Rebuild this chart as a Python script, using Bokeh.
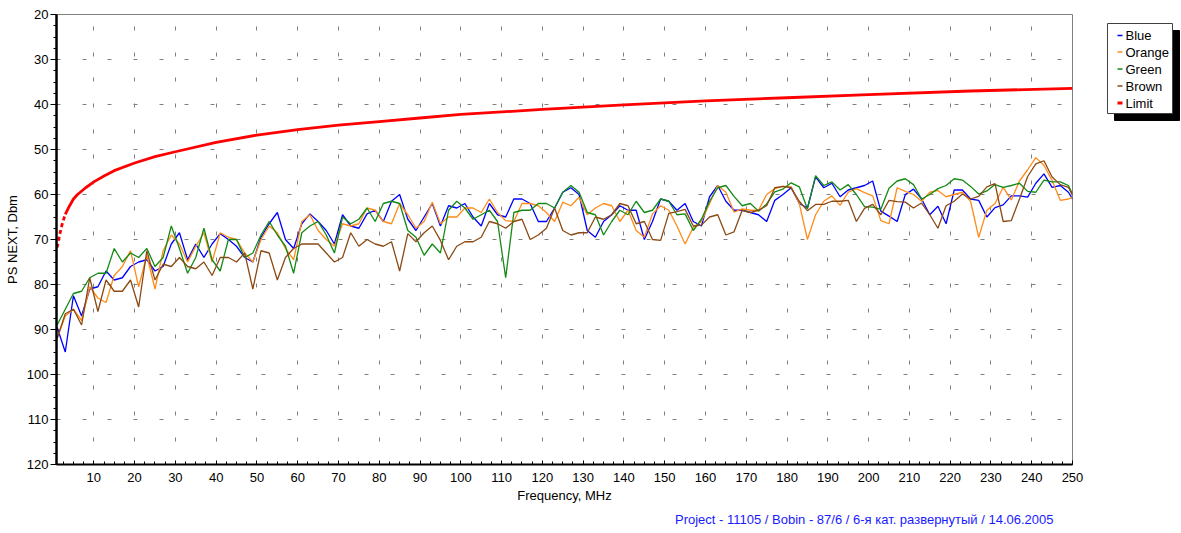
from bokeh.plotting import figure
from bokeh.models import Range1d, FixedTicker, Title, ColumnDataSource
from bokeh.layouts import row
from bokeh.embed import file_html
from bokeh.resources import INLINE
from bokeh.core.properties import value

# ---------------- data ----------------
freq = list(range(1, 250, 2)) + [250]   # MHz sample points

blue = [89.5, 95, 82.5, 87, 81, 80.5, 77, 79, 78.5, 76,
        75, 74.5, 77, 76, 71, 68.5, 74.5, 71, 74, 71,
        68.7, 70, 71.5, 74, 75, 69.5, 66.5, 64, 70, 72,
        66.5, 64.3, 66, 68, 71, 64.5, 67, 67.5, 64.3, 63.5, 66, 61.5,
        60, 65.5, 68, 65, 62, 67, 62.5, 63, 62, 65,
        67, 62, 64.5, 65, 61, 61, 62, 66, 66, 63,
        59.5, 58.5, 60, 68, 69.5, 66, 64.5, 62.5, 63.5, 63.5,
        70, 66, 61, 61.5, 63.5, 62, 66, 67, 60.5, 58, 61.5,
        63.5, 63.5, 64, 64.5, 66, 61.3, 60, 58.5, 62, 63,
        56.1, 58.5, 57.5, 60.5, 59, 58.5, 58, 57, 63.7, 64.8,
        66, 60, 58.8, 61, 64.5, 62.6, 66.5, 59, 59, 61,
        61.3, 65, 62.9, 62.3, 60.3, 60.3, 60.6, 57.5, 55.4, 58.4, 58, 59.5,
        61]

orange = [92, 87, 85.5, 88, 80.5, 83, 84, 78, 76, 72.5,
          80.5, 73.5, 81, 72.5, 69, 71, 75, 71.5, 68.5, 75,
          68.5, 69.5, 70, 73, 75, 70, 67, 68.5, 72, 74.5,
          66, 64.5, 68, 70, 71.5, 66.5, 67, 66.5, 63, 63.5, 66, 66.5,
          62, 64.5, 67.5, 66, 61.7, 66.5, 65, 65, 63, 63,
          64, 61, 64, 65.8, 66, 62, 62, 62.5, 64, 66,
          61.7, 62.5, 60.6, 64.5, 63, 62, 62.5, 66, 63.5, 68,
          69.5, 64.3, 62.5, 63.5, 67, 71, 67.3, 66, 62, 58, 59.5,
          63.9, 63.2, 63.5, 63.5, 60, 58.7, 58.2, 58.3, 62, 70,
          64.5, 61.5, 60.3, 62.4, 59.5, 58.7, 59.6, 60.3, 65.8, 66.5,
          58.5, 59.3, 60, 61.5, 59.5, 59.1, 60.5, 60, 59.5, 61.5,
          69.5, 63.5, 62, 58.4, 61.2, 57, 54.5, 51.8, 53.5, 56.9, 61.3, 61,
          60.6]

green = [89, 85.5, 82, 81.5, 78.5, 77.5, 77.5, 72, 75, 73,
         74, 72, 76, 74, 67, 72, 77.5, 74, 67.5, 74.5,
         77, 70, 70, 74, 73, 69, 66, 69, 71.5, 77.5,
         68.5, 67, 66, 69, 73, 65, 66.5, 65.5, 63, 66, 62, 61.5,
         62, 68, 69.5, 73.5, 71, 73, 63.5, 61.5, 63, 65.5,
         64.5, 63.5, 66, 78.5, 64, 63.5, 63.5, 62, 62, 63,
         59.5, 58, 59.5, 64, 64.5, 69, 66, 63.5, 64.5, 61.5,
         64, 63.5, 61, 61.5, 64.5, 64.3, 68, 65.5, 61.5, 58.5, 58,
         60.4, 62.5, 62, 63.7, 62.1, 59.4, 58.8, 57.4, 58.3, 63.2,
         55.8, 58, 57.2, 59, 57.8, 60, 62.7, 62.8, 63.3, 58.6,
         57, 56.5, 57.8, 61, 60, 58.7, 58, 56.5, 56.8, 58.2,
         59.9, 59.2, 57.8, 58.4, 58, 57.5, 59.3, 59.5, 56.8, 57.2, 57.2, 58,
         59.9]

brown = [92, 86.5, 85.5, 89, 78.5, 86, 79, 81.5, 81.5, 79,
         85, 72.5, 79, 75.5, 76, 74, 76, 76.5, 75, 78,
         74, 74, 75, 73, 81, 72.5, 73, 79, 74, 72,
         71, 71, 71, 73, 75, 74, 68.5, 71.5, 70, 71, 71.5, 70.5,
         77, 68.7, 70.5, 68.5, 67, 70.2, 74.5, 71.5, 70.5, 70.5,
         69.5, 66, 66.5, 67.5, 66, 65.5, 70, 69, 67.5, 63,
         68, 69, 68.5, 68.5, 65, 65.5, 64.5, 62, 62.5, 66.5,
         66, 70, 70.2, 64.2, 63.8, 63.3, 67, 66.8, 65, 64.5, 69,
         68.3, 63.5, 64, 63.5, 62.5, 58.5, 58.2, 58.5, 61.5, 63.6,
         62.2, 62.2, 61.5, 61.5, 61.3, 66, 63.1, 62.2, 64.5, 61.3,
         61.6, 61.7, 63, 61.9, 64.5, 67.5, 62.5, 61.5, 59.9, 61,
         60.4, 58.3, 57.6, 66, 65.8, 61, 56, 53.2, 52.5, 56.1, 57.8, 58.4,
         60.2]

limit_freq = [1, 1.25, 1.5, 2, 2.5, 3, 4, 5, 6, 8, 10, 12.5, 15, 20, 25, 30,
              40, 50, 60, 70, 80, 90, 100, 120, 140, 160, 180, 200, 225, 250]
limit_db = [71.8, 70.6, 69.5, 67.4, 65.8, 64.4, 62.6, 61.0, 60.0, 58.5, 57.2,
            55.9, 54.7, 53.0, 51.6, 50.5, 48.4, 46.8, 45.6, 44.6, 43.8, 43.0,
            42.2, 41.1, 40.1, 39.2, 38.5, 37.8, 37.0, 36.4]

series_names = ["Blue", "Orange", "Green", "Brown", "Limit"]
series_colors = ["#0000FF", "#FF8C1A", "#138A13", "#8B4A14", "#FF0000"]

y_ticks = list(range(20, 121, 10))
x_ticks = list(range(10, 251, 10))
y_minor = [20 + 2.5 * i for i in range(41)]
x_minor = [2.5 * i for i in range(1, 101)]

x_title = "Frequency, MHz"
y_title = "PS NEXT, Dbm"
footer = "Project - 11105 / Bobin - 87/6 / 6-я кат. развернутый / 14.06.2005"

FONT = "Liberation Sans"
GRID_DASH = "4 22 4 21 4 22"

# ---------------- main plot ----------------
p = figure(width=1090, height=533,
           x_range=Range1d(0.85, 250), y_range=Range1d(120, 20),
           output_backend="svg", toolbar_location=None,
           min_border_left=56, min_border_right=18,
           min_border_top=14, min_border_bottom=69)
p.background_fill_color = "white"
p.border_fill_color = "white"
p.outline_line_color = "#808080"
p.outline_line_width = 1

series = [blue, orange, green, brown]
for vals, col in zip(series, series_colors[:4]):
    p.line(freq, vals, line_color=col, line_width=1.3)

lim_lo = [(f, v) for f, v in zip(limit_freq, limit_db) if f <= 3]
lim_hi = [(f, v) for f, v in zip(limit_freq, limit_db) if f >= 3]
p.line([a for a, b in lim_lo], [b for a, b in lim_lo],
       line_color=series_colors[4], line_width=2.8, line_dash="4 3")
p.line([a for a, b in lim_hi], [b for a, b in lim_hi],
       line_color=series_colors[4], line_width=2.8)

# axes
p.yaxis.ticker = FixedTicker(ticks=y_ticks, minor_ticks=y_minor)
p.xaxis.ticker = FixedTicker(ticks=x_ticks, minor_ticks=x_minor)
p.xaxis.axis_label = x_title
p.yaxis.axis_label = y_title
for ax in (p.xaxis[0], p.yaxis[0]):
    ax.axis_line_color = "black"
    ax.major_tick_line_color = "black"
    ax.minor_tick_line_color = "black"
    ax.major_label_text_font = FONT
    ax.major_label_text_font_size = "13px"
    ax.major_label_text_color = "black"
    ax.axis_label_text_font = FONT
    ax.axis_label_text_font_size = "13px"
    ax.axis_label_text_font_style = "normal"
    ax.axis_label_text_color = "black"
p.yaxis.axis_line_width = 2.5
p.xaxis.axis_line_width = 2
p.yaxis.major_tick_out = 6
p.yaxis.major_tick_in = 0
p.yaxis.minor_tick_out = 3
p.yaxis.minor_tick_in = 0
p.yaxis.major_label_standoff = 2
p.yaxis.axis_label_standoff = 4
p.xaxis.major_tick_out = 0
p.xaxis.major_tick_in = 4
p.xaxis.minor_tick_out = 0
p.xaxis.minor_tick_in = 3
p.xaxis.major_label_standoff = 8
p.xaxis.axis_label_standoff = 3

# grid
p.xgrid.ticker = FixedTicker(ticks=x_ticks[:-1])
p.ygrid.ticker = FixedTicker(ticks=y_ticks[1:-1])
for g in (p.xgrid[0], p.ygrid[0]):
    g.grid_line_color = "#808080"
    g.grid_line_width = 1
    g.grid_line_dash = GRID_DASH
p.xgrid.grid_line_dash_offset = 65

p.add_layout(Title(text=footer, align="right", text_color="#1A1AFF",
                   text_font=FONT, text_font_size="13px",
                   text_font_style="normal", offset=19, standoff=8), "below")

# ---------------- legend panel ----------------
# its frame is aligned with the main plot's frame (page y 14..464)
lg = figure(width=91, height=533, x_range=Range1d(1090, 1181),
            y_range=Range1d(464, 14), x_axis_type=None, y_axis_type=None,
            output_backend="svg", toolbar_location=None,
            min_border=0, min_border_left=0, min_border_right=0,
            min_border_top=14, min_border_bottom=69)
lg.outline_line_color = None
lg.grid.visible = False
lg.background_fill_color = "white"
lg.border_fill_color = "white"

box_l, box_r, box_t, box_b, sh = 1107, 1172, 23, 113, 7
lg.quad(left=[box_l + sh], right=[box_r + sh], top=[box_t + sh],
        bottom=[box_b + sh], fill_color="black", line_color="black")
lg.quad(left=[box_l], right=[box_r], top=[box_t], bottom=[box_b],
        fill_color="white", line_color="#404040", line_width=1)
rows_y = [35, 51.5, 68.5, 85.5, 102.5]
leg_src = ColumnDataSource(dict(
    x0=[box_l + 10] * 5, x1=[box_l + 15] * 5, y=rows_y,
    tx=[box_l + 18] * 5, name=series_names, color=series_colors,
    lw=[1.3, 1.3, 1.3, 1.3, 3]))
lg.segment(x0="x0", y0="y", x1="x1", y1="y", line_color="color",
           line_width="lw", source=leg_src)
lg.text(x="tx", y="y", text="name", source=leg_src, text_baseline="middle",
        text_align="left", text_font=value(FONT), text_font_size="13px",
        text_color="black")

layout = row(p, lg)
open("out.html", "w").write(file_html(layout, INLINE))
